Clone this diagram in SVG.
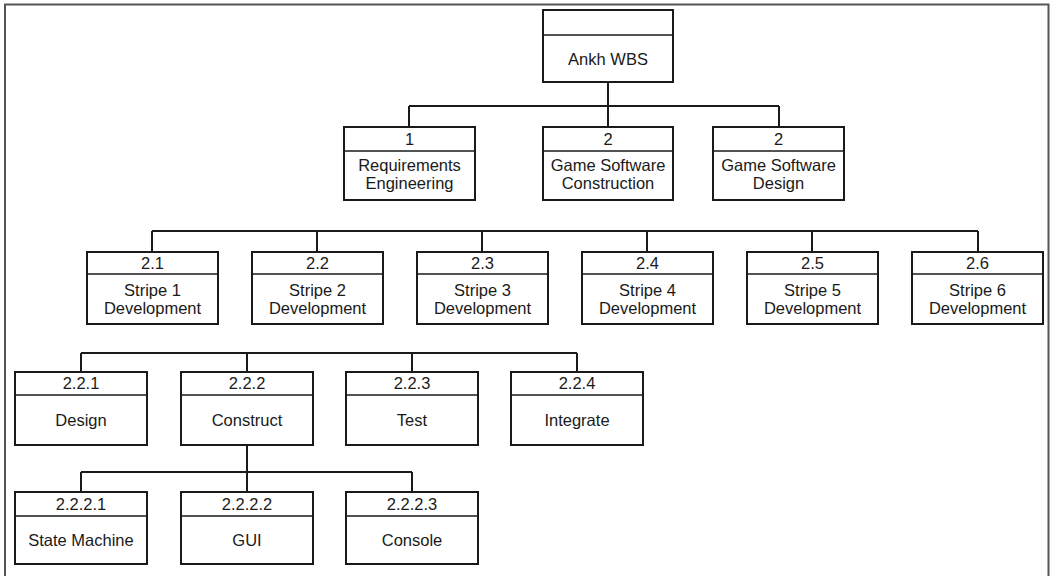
<svg xmlns="http://www.w3.org/2000/svg" width="1051" height="576" viewBox="0 0 1051 576">
<style>
.box{fill:#fff;stroke:#1a1a1a;stroke-width:2}
.div{stroke:#1a1a1a;stroke-width:1.6}
.con{fill:none;stroke:#1a1a1a;stroke-width:2}
text{font-family:"Liberation Sans",Arial,sans-serif;font-size:16.5px;fill:#1a1a1a;text-anchor:middle}
</style>
<rect x="0" y="0" width="1051" height="576" fill="#fff"/>
<path d="M5,580 V4.5 H1048.5 V580" fill="none" stroke="#555" stroke-width="2"/>
<g id="connectors" class="con">
<path d="M608,82 V106 M409,106 H779 M409,106 V127 M608,106 V127 M779,106 V127"/>
<path d="M152,231 H978 M152,231 V252 M317,231 V252 M482,231 V252 M647,231 V252 M812,231 V252 M978,231 V252"/>
<path d="M81,353 H577 M81,353 V372 M247,353 V372 M412,353 V372 M577,353 V372"/>
<path d="M247,445 V492 M81,472 H412 M81,472 V492 M412,472 V492"/>
</g>
<g id="root"><rect class="box" x="543" y="10" width="130" height="72"/><line class="div" x1="543" y1="35" x2="673" y2="35"/><text x="608" y="65">Ankh WBS</text></g>
<g id="n1"><rect class="box" x="344" y="127" width="131" height="73"/><line class="div" x1="344" y1="151" x2="475" y2="151"/><text x="409.5" y="145">1</text><text x="409.5" y="171">Requirements</text><text x="409.5" y="189">Engineering</text></g>
<g id="n2a"><rect class="box" x="543" y="127" width="130" height="73"/><line class="div" x1="543" y1="151" x2="673" y2="151"/><text x="608" y="145">2</text><text x="608" y="171">Game Software</text><text x="608" y="189">Construction</text></g>
<g id="n2b"><rect class="box" x="713" y="127" width="131" height="73"/><line class="div" x1="713" y1="151" x2="844" y2="151"/><text x="778.5" y="145">2</text><text x="778.5" y="171">Game Software</text><text x="778.5" y="189">Design</text></g>
<g id="n2_1"><rect class="box" x="87" y="252" width="131" height="72"/><line class="div" x1="87" y1="274" x2="218" y2="274"/><text x="152.5" y="269">2.1</text><text x="152.5" y="296">Stripe 1</text><text x="152.5" y="314">Development</text></g>
<g id="n2_2"><rect class="box" x="252" y="252" width="131" height="72"/><line class="div" x1="252" y1="274" x2="383" y2="274"/><text x="317.5" y="269">2.2</text><text x="317.5" y="296">Stripe 2</text><text x="317.5" y="314">Development</text></g>
<g id="n2_3"><rect class="box" x="417" y="252" width="131" height="72"/><line class="div" x1="417" y1="274" x2="548" y2="274"/><text x="482.5" y="269">2.3</text><text x="482.5" y="296">Stripe 3</text><text x="482.5" y="314">Development</text></g>
<g id="n2_4"><rect class="box" x="582" y="252" width="131" height="72"/><line class="div" x1="582" y1="274" x2="713" y2="274"/><text x="647.5" y="269">2.4</text><text x="647.5" y="296">Stripe 4</text><text x="647.5" y="314">Development</text></g>
<g id="n2_5"><rect class="box" x="747" y="252" width="131" height="72"/><line class="div" x1="747" y1="274" x2="878" y2="274"/><text x="812.5" y="269">2.5</text><text x="812.5" y="296">Stripe 5</text><text x="812.5" y="314">Development</text></g>
<g id="n2_6"><rect class="box" x="912" y="252" width="131" height="72"/><line class="div" x1="912" y1="274" x2="1043" y2="274"/><text x="977.5" y="269">2.6</text><text x="977.5" y="296">Stripe 6</text><text x="977.5" y="314">Development</text></g>
<g id="n2_2_1"><rect class="box" x="15" y="372" width="132" height="73"/><line class="div" x1="15" y1="395" x2="147" y2="395"/><text x="81" y="389">2.2.1</text><text x="81" y="426">Design</text></g>
<g id="n2_2_2"><rect class="box" x="181" y="372" width="132" height="73"/><line class="div" x1="181" y1="395" x2="313" y2="395"/><text x="247" y="389">2.2.2</text><text x="247" y="426">Construct</text></g>
<g id="n2_2_3"><rect class="box" x="346" y="372" width="132" height="73"/><line class="div" x1="346" y1="395" x2="478" y2="395"/><text x="412" y="389">2.2.3</text><text x="412" y="426">Test</text></g>
<g id="n2_2_4"><rect class="box" x="511" y="372" width="132" height="73"/><line class="div" x1="511" y1="395" x2="643" y2="395"/><text x="577" y="389">2.2.4</text><text x="577" y="426">Integrate</text></g>
<g id="n2_2_2_1"><rect class="box" x="15" y="492" width="132" height="72"/><line class="div" x1="15" y1="516" x2="147" y2="516"/><text x="81" y="510">2.2.2.1</text><text x="81" y="546">State Machine</text></g>
<g id="n2_2_2_2"><rect class="box" x="181" y="492" width="132" height="72"/><line class="div" x1="181" y1="516" x2="313" y2="516"/><text x="247" y="510">2.2.2.2</text><text x="247" y="546">GUI</text></g>
<g id="n2_2_2_3"><rect class="box" x="346" y="492" width="132" height="72"/><line class="div" x1="346" y1="516" x2="478" y2="516"/><text x="412" y="510">2.2.2.3</text><text x="412" y="546">Console</text></g>
</svg>
